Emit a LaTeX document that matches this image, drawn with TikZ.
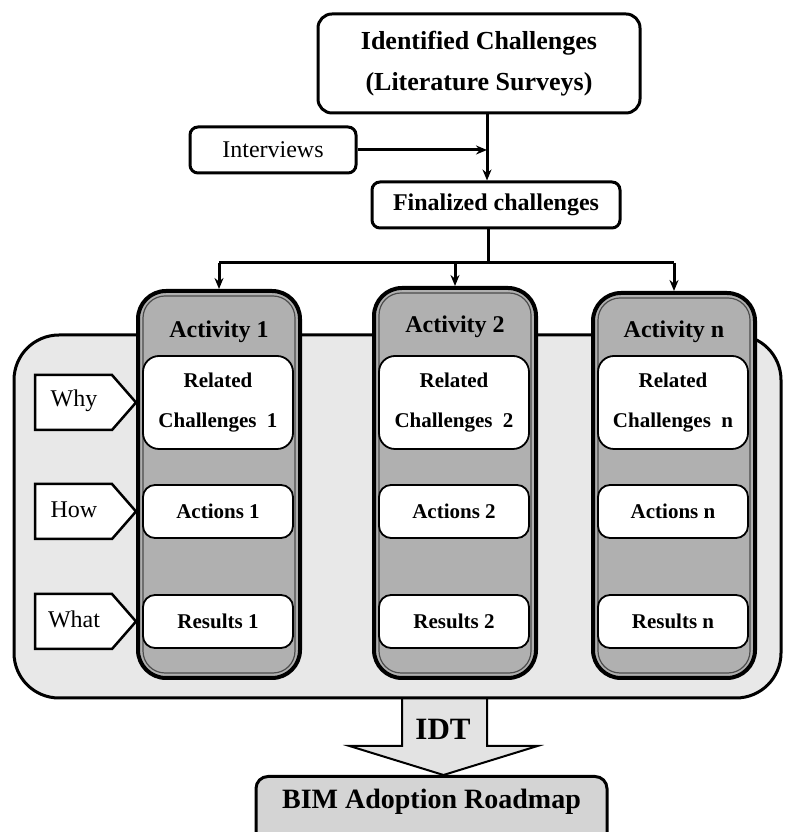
\documentclass[tikz,border=0pt]{standalone}
\usepackage{fontspec}
\setmainfont{Liberation Serif}
\usetikzlibrary{arrows.meta,positioning,calc}
\tikzset{>={Stealth[length=11pt,width=9pt]},
  main node/.style={rectangle,rounded corners=14pt,draw,line width=3pt,fill=white,align=center,font=\fontsize{26}{41}\selectfont\bfseries},
  side node/.style={rectangle,rounded corners=8pt,draw,line width=3pt,fill=white,font=\fontsize{24}{28}\selectfont},
  act node/.style={rectangle,rounded corners=28pt,draw,line width=4pt,fill=black!31},
  head node/.style={font=\fontsize{24}{28}\selectfont\bfseries},
  item node/.style={rectangle,rounded corners=16pt,draw,line width=1.8pt,fill=white,align=center,minimum width=150pt,font=\fontsize{21}{40}\selectfont\bfseries},
  panel node/.style={rectangle,rounded corners=45pt,draw,line width=3pt,fill=black!9},
  tag node/.style={font=\fontsize{24}{28}\selectfont},
  tag line/.style={line width=2.5pt,fill=white},
  road node/.style={rectangle,rounded corners=12pt,draw,line width=3pt,fill=black!17,font=\fontsize{28}{32}\selectfont\bfseries,inner ysep=12pt,text height=20pt,text depth=50pt},
  idt arrow/.style={line width=2pt,fill=black!11},
  edge/.style={line width=3pt}}
\begin{document}
\begin{tikzpicture}[x=1pt,y=1pt]
  \useasboundingbox (0,0) rectangle (784,832);
  % top of the flow
  \node[main node, minimum width=322pt, minimum height=99pt] (top) at (479,768.5) {Identified Challenges\\(Literature Surveys)};
  \node[side node, minimum width=166pt, minimum height=46pt] (inter) at (273,682) {Interviews};
  \node[main node, rounded corners=8pt, font=\fontsize{24}{28}\selectfont\bfseries, minimum width=248pt, minimum height=46pt] (fin) at (496,627) {Finalized challenges};
  \coordinate (join) at (487,682);
  \coordinate (split) at (488,569);
  \draw[edge,->] (top.south -| join) -- (fin.north -| join);
  \draw[edge,->] (inter.east) -- (join);
  % roadmap and IDT arrow
  \node[road node, minimum width=351pt, anchor=north] (road) at (431.5,57) {BIM Adoption Roadmap};
  \coordinate (idt) at (444.5,0);
  \coordinate (idt a) at (444.5,134);
  \coordinate (idt b) at (road.north -| idt);
  \filldraw[idt arrow] ($(idt a)+(-42.5,1)$) |- ($(idt b)+(-95,29)$) -- ($(idt b)+(-1,0)$) -- ($(idt b)+(93,29)$) -| ($(idt a)+(42.5,1)$);
  \node[panel node, minimum width=767pt, minimum height=363pt] (panel) at (397.5,315.5) {};
  \node[head node, font=\fontsize{31}{34}\selectfont\bfseries] (idtlab) at (443,103) {IDT};
  % activity columns
  \foreach \n/\x/\t/\hy/\k in {1/219/541/500/1,2/455/544/505/2,3/674/539/500/n}{
    \pgfmathsetmacro\cy{(\t+154)/2}
    \pgfmathsetmacro\ch{\t-154}
    \node[act node, minimum width=162pt, minimum height=\ch pt] (act\n) at (\x,\cy) {};
    \draw[line width=1.2pt, draw=black!70, rounded corners=22pt] ($(act\n.south west)+(7,7)$) rectangle ($(act\n.north east)+(-7,-7)$);
    \node[head node] (head\n) at (\x,\hy) {Activity \k};
    \node[item node, minimum height=93pt] (rel\n) at (\x-1,429.5) {Related\\Challenges~~\k};
    \node[item node, rounded corners=12pt, minimum height=53pt] (todo\n) at (\x-1,320.5) {Actions \k};
    \node[item node, rounded corners=12pt, minimum height=53pt] (res\n) at (\x-1,210.5) {Results \k};
  }
  \draw[edge] (fin.south -| split) -- (split);
  \draw[edge] (act1.north |- split) -- (act3.north |- split);
  \foreach \n in {1,2,3}
    \draw[edge,->] (act\n.north |- split) -- (act\n.north);
  % why / how / what
  \foreach \nm/\y/\w in {why/429.5/Why,how/320.5/How,what/210.5/What}{
    \filldraw[tag line] (35,\y+27.5) -- (112,\y+27.5) -- (136,\y) -- (112,\y-27.5) -- (35,\y-27.5) -- cycle;
    \node[tag node] (\nm) at (74,\y+2) {\w};
  }
\end{tikzpicture}
\end{document}
